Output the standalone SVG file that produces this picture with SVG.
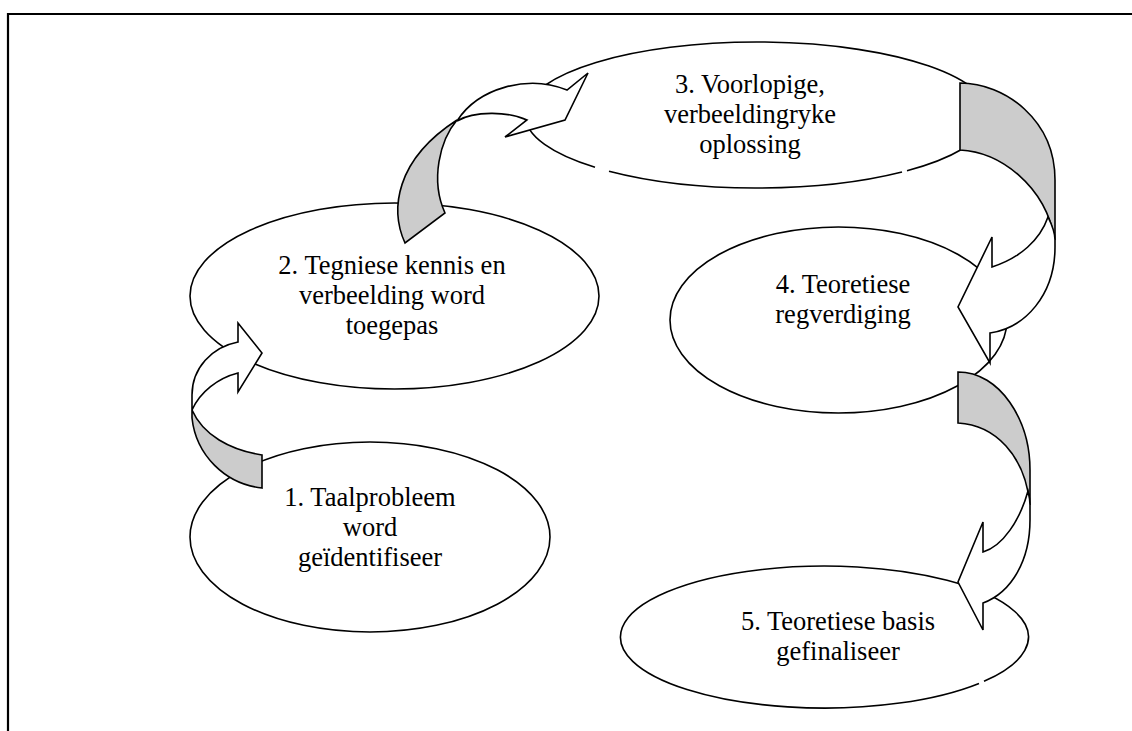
<svg xmlns="http://www.w3.org/2000/svg" width="1132" height="731" viewBox="0 0 1132 731">
<style>
.frame{fill:none;stroke:#000;stroke-width:2.2}
.shape{fill:#fff;stroke:#000;stroke-width:1.6}
.fillonly{fill:#fff;stroke:none}
.outline{fill:none;stroke:#000;stroke-width:1.6}
.lbl{font-family:"Liberation Serif","Times New Roman",serif;font-size:26.5px;fill:#000;text-anchor:middle}
.back{fill:#cccccc;stroke:#000;stroke-width:1.6;stroke-linejoin:miter}
.front{fill:#fff;stroke:#000;stroke-width:1.6;stroke-linejoin:miter}
</style>
<rect width="1132" height="731" fill="#fff"/>
<path class="frame" d="M8,731 V14 H1132"/>

<g id="node1">
<ellipse class="shape" cx="370" cy="537" rx="180" ry="95"/>
<text class="lbl" x="370" y="506">1. Taalprobleem</text>
<text class="lbl" x="370" y="536">word</text>
<text class="lbl" x="370" y="566">geïdentifiseer</text>
</g>

<g id="node2">
<ellipse class="shape" cx="394.5" cy="296" rx="204.5" ry="93"/>
<text class="lbl" x="392" y="274">2. Tegniese kennis en</text>
<text class="lbl" x="392" y="304">verbeelding word</text>
<text class="lbl" x="392" y="334">toegepas</text>
</g>

<g id="node3">
<ellipse class="fillonly" cx="757" cy="115" rx="232" ry="73"/>
<path class="outline" d="M609,171.2 A232,73 0 0 0 902,172 M907,170.7 A232,73 0 1 0 595,167.3"/>
<text class="lbl" x="750" y="93">3. Voorlopige,</text>
<text class="lbl" x="750" y="123">verbeeldingryke</text>
<text class="lbl" x="750" y="153">oplossing</text>
</g>

<g id="node4">
<ellipse class="shape" cx="838.5" cy="320" rx="168.5" ry="93"/>
<text class="lbl" x="843" y="293">4. Teoretiese</text>
<text class="lbl" x="843" y="323">regverdiging</text>
</g>

<g id="node5">
<ellipse class="fillonly" cx="827" cy="636" rx="204" ry="71"/>
<path class="outline" d="M984,681.3 A204,71 0 1 0 979,683.4"/>
<text class="lbl" x="838" y="630">5. Teoretiese basis</text>
<text class="lbl" x="838" y="660">gefinaliseer</text>
</g>

<g id="connectors">
<g id="arrow-1-2">
<path class="back" d="M192,410 L192,418 C196,455 225,484 262,488 L262,455 C230,450 203,435 192,410 Z"/>
<path class="front" d="M192,410 L192,395 C192,368 212,347 238,342 L238,323 L262,353 L238,392 L238,373 C218,378 200,392 192,410 Z"/>
</g>
<g id="arrow-2-3">
<path class="back" d="M405,243 C390,210 395,160 457,120 C440,140 430,180 445,213 Z"/>
<path class="front" d="M457,121 C478,88 528,74 567,90 L588,73 L565,120 L505,137 L527,120 C510,112 475,110 457,121 Z"/>
</g>
<g id="arrow-3-4">
<path class="back" d="M960,83 C1005,83 1055,120 1055,180 L1055,240 C1045,185 1000,152 960,150 Z"/>
<path class="front" d="M1048,217 C1052,225 1055,233 1055,240 L1055,247 C1055,295 1025,328 990,333 L990,363 L958,307 L992,237 L992,267 C1020,258 1040,240 1048,217 Z"/>
</g>
<g id="arrow-4-5">
<path class="back" d="M958,372 C1000,372 1030,420 1030,470 L1030,505 C1025,455 995,425 958,423 Z"/>
<path class="front" d="M1028,491 C1029,495 1030,500 1030,505 L1030,520 C1030,560 1012,592 983,603 L983,630 L958,582 L983,522 L983,552 C1003,546 1020,520 1028,491 Z"/>
</g>
</g>
</svg>
